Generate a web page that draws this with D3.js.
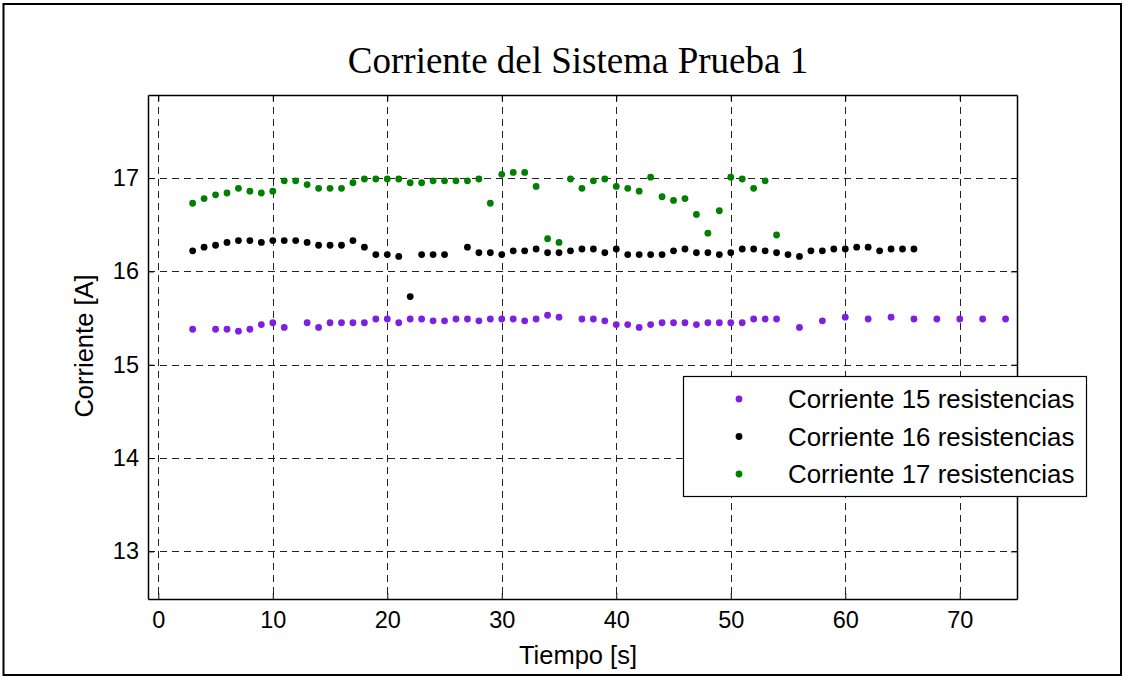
<!DOCTYPE html>
<html><head><meta charset="utf-8">
<script src="https://cdn.jsdelivr.net/npm/d3@7"></script>
<style>body{margin:0;background:#fff;}svg{display:block;}</style>
</head><body>
<svg id="chart" width="1125" height="677"></svg>
<script>
const xTicks = [0,10,20,30,40,50,60,70];
const yTicks = [13,14,15,16,17];
const seriesNames = ["Corriente 15 resistencias","Corriente 16 resistencias","Corriente 17 resistencias"];
const seriesColors = ["#7f1fe0","#000000","#008000"];

const t15 = [3,5,6,7,8,9,10,11,13,14,15,16,17,18,19,20,21,22,23,24,25,26,27,28,29,30,31,32,33,34,35,37,38,39,40,41,42,43,44,45,46,47,48,49,50,51,52,53,54,56,58,60,62,64,66,68,70,72,74];
const i15 = [15.38,15.38,15.38,15.36,15.38,15.43,15.45,15.40,15.45,15.40,15.45,15.45,15.45,15.45,15.49,15.49,15.45,15.49,15.49,15.47,15.47,15.49,15.49,15.47,15.49,15.49,15.49,15.47,15.49,15.53,15.51,15.49,15.49,15.47,15.43,15.43,15.40,15.43,15.45,15.45,15.45,15.43,15.45,15.45,15.45,15.45,15.49,15.49,15.49,15.40,15.47,15.51,15.49,15.51,15.49,15.49,15.49,15.49,15.49];

const t16 = [3,4,5,6,7,8,9,10,11,12,13,14,15,16,17,18,19,20,21,22,23,24,25,27,28,29,30,31,32,33,34,35,36,37,38,39,40,41,42,43,44,45,46,47,48,49,50,51,52,53,54,55,56,57,58,59,60,61,62,63,64,65,66];
const i16 = [16.22,16.26,16.28,16.31,16.33,16.33,16.31,16.33,16.33,16.33,16.31,16.28,16.28,16.28,16.33,16.26,16.18,16.18,16.16,15.73,16.18,16.18,16.18,16.26,16.20,16.20,16.18,16.22,16.22,16.24,16.20,16.20,16.22,16.24,16.24,16.20,16.24,16.18,16.18,16.18,16.18,16.22,16.24,16.20,16.20,16.18,16.20,16.24,16.24,16.22,16.20,16.18,16.16,16.22,16.22,16.24,16.24,16.26,16.26,16.22,16.24,16.24,16.24];

const t17 = [3,4,5,6,7,8,9,10,11,12,13,14,15,16,17,18,19,20,21,22,23,24,25,26,27,28,29,30,31,32,33,34,35,36,37,38,39,40,41,42,43,44,45,46,47,48,49,50,51,52,53,54];
const i17 = [16.73,16.78,16.82,16.84,16.89,16.86,16.84,16.86,16.97,16.97,16.93,16.89,16.89,16.89,16.95,16.99,16.99,16.99,16.99,16.95,16.95,16.97,16.97,16.97,16.97,16.99,16.73,17.04,17.06,17.06,16.91,16.35,16.31,16.99,16.89,16.97,16.99,16.91,16.89,16.86,17.01,16.80,16.76,16.78,16.61,16.41,16.65,17.01,16.99,16.89,16.97,16.39];

const series = [[t15,i15],[t16,i16],[t17,i17]];

const svg = d3.select("#chart");
const L = 148, R = 1017, T = 95, B = 599;
const x = d3.scaleLinear().domain([-0.9, 75]).range([L, R]);
const y = d3.scaleLinear().domain([12.49, 17.89]).range([B, T]);

// outer frame
svg.append("rect").attr("x",3.5).attr("y",4).attr("width",1117.5).attr("height",671)
  .attr("fill","#fff").attr("stroke","#000").attr("stroke-width",2);

// grid
const g = svg.append("g");
g.selectAll(".vg").data(xTicks).enter().append("line")
  .attr("x1",d=>Math.round(x(d))+0.5).attr("x2",d=>Math.round(x(d))+0.5)
  .attr("y1",T).attr("y2",B)
  .attr("stroke","#222").attr("stroke-width",1).attr("stroke-dasharray","7,5");
g.selectAll(".hg").data(yTicks).enter().append("line")
  .attr("y1",d=>Math.round(y(d))+0.5).attr("y2",d=>Math.round(y(d))+0.5)
  .attr("x1",L).attr("x2",R)
  .attr("stroke","#222").attr("stroke-width",1).attr("stroke-dasharray","7,5");

// axes
const fontSans = "'Liberation Sans', Arial, sans-serif";
const fmt = d3.format("d");
const xAxis = d3.axisBottom(x).tickValues(xTicks).tickFormat(fmt).tickSizeInner(-6).tickSizeOuter(0).tickPadding(12);
const yAxis = d3.axisLeft(y).tickValues(yTicks).tickFormat(fmt).tickSizeInner(-6).tickSizeOuter(0).tickPadding(9);
const xa = svg.append("g").attr("transform",`translate(0,${B})`).call(xAxis);
const ya = svg.append("g").attr("transform",`translate(${L},0)`).call(yAxis);
const xt = svg.append("g").attr("transform",`translate(0,${T})`).call(d3.axisTop(x).tickValues(xTicks).tickSizeInner(-6).tickSizeOuter(0).tickFormat(""));
const yr = svg.append("g").attr("transform",`translate(${R},0)`).call(d3.axisRight(y).tickValues(yTicks).tickSizeInner(-6).tickSizeOuter(0).tickFormat(""));
[xa,ya,xt,yr].forEach(a=>{
  a.attr("font-size",23.5).attr("font-family",fontSans);
  a.select(".domain").attr("stroke","#000").attr("stroke-width",1.5);
  a.selectAll(".tick line").attr("stroke","#000");
  a.selectAll("text").attr("font-family",fontSans).attr("font-size",23.5).attr("fill","#000");
});

// points
series.forEach((s,k)=>{
  svg.append("g").selectAll("circle").data(s[0].map((t,i)=>[t,s[1][i]])).enter().append("circle")
    .attr("cx",d=>x(d[0])).attr("cy",d=>y(d[1])).attr("r",3.4).attr("fill",seriesColors[k]);
});

// title
svg.append("text").attr("x",578).attr("y",73).attr("text-anchor","middle")
  .attr("font-family","'Liberation Serif', 'Times New Roman', serif").attr("font-size",37)
  .text("Corriente del Sistema Prueba 1");
// axis labels
svg.append("text").attr("x",578).attr("y",664).attr("text-anchor","middle")
  .attr("font-family",fontSans).attr("font-size",25.5).text("Tiempo [s]");
svg.append("text").attr("transform","translate(93,346) rotate(-90)").attr("text-anchor","middle")
  .attr("font-family",fontSans).attr("font-size",25.5).text("Corriente [A]");

// legend
const lg = svg.append("g");
lg.append("rect").attr("x",683.5).attr("y",376.5).attr("width",403).attr("height",120)
  .attr("fill","#fff").attr("stroke","#000").attr("stroke-width",1.2);
seriesNames.forEach((n,i)=>{
  const yy = 399 + i*37.5;
  lg.append("circle").attr("cx",739).attr("cy",yy).attr("r",3.4).attr("fill",seriesColors[i]);
  lg.append("text").attr("x",788).attr("y",yy+9).attr("font-family",fontSans).attr("font-size",25.9).text(n);
});
</script>
</body></html>
